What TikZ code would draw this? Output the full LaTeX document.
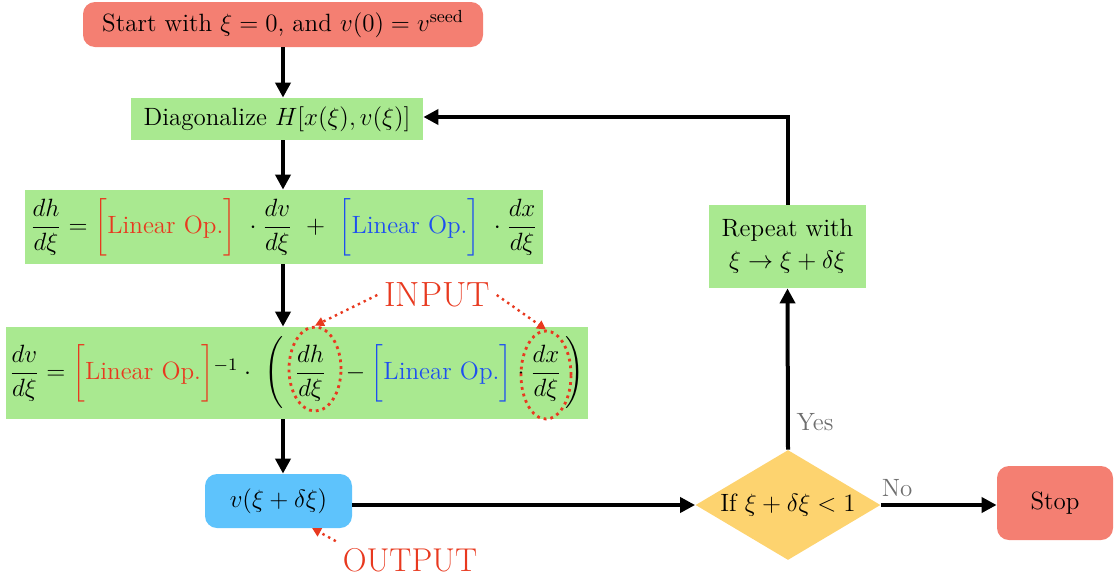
\documentclass[tikz,border=0pt]{standalone}
\usepackage{fix-cm}
\usepackage{amsmath}
\usetikzlibrary{arrows.meta,shapes.geometric}
\definecolor{boxRed}{HTML}{F47F72}
\definecolor{boxGreen}{HTML}{A9E990}
\definecolor{boxBlue}{HTML}{5EC3FC}
\definecolor{boxYellow}{HTML}{FDD36F}
\definecolor{opRed}{HTML}{E8391F}
\definecolor{opBlue}{HTML}{1E4FF0}
\definecolor{noteGrey}{HTML}{6E6E6E}
\newcommand{\redop}{\textcolor{opRed}{\biggl[\text{Linear Op.}\biggr]}}
\newcommand{\blueop}{\textcolor{opBlue}{\biggl[\text{Linear Op.}\biggr]}}

\begin{document}
\begin{tikzpicture}[x=0.5pt,y=-0.5pt,
  >={Triangle[width=7.5pt,length=7.5pt]},
  every node/.style={font=\fontsize{12.5}{15}\selectfont},
  flow/.style={->,line width=2pt},
  note/.style={->,opRed,dotted,line width=1.2pt,>={Triangle[width=4.5pt,length=4.5pt]}},
  greenbox/.style={fill=boxGreen,inner sep=0pt},
  roundbox/.style={rounded corners=6pt,inner sep=0pt},
  ring/.style={ellipse,draw=opRed,dotted,line width=1.4pt,inner sep=0pt}]
\useasboundingbox (0,0) rectangle (1114,579);
% boxes of the loop
\node[roundbox,fill=boxRed,minimum width=200pt,minimum height=22.5pt] (start) at (283,24.5) {Start with $\xi=0$, and $v(0)=v^{\text{seed}}$};
\node[greenbox,minimum width=146pt,minimum height=21pt] (diag) at (277,119) {Diagonalize $H[x(\xi),v(\xi)]$};
\node[greenbox,minimum width=259pt,minimum height=37pt] (eqh) at (284,227)
  {$\dfrac{dh}{d\xi}=\redop\ \cdot\dfrac{dv}{d\xi}\ +\ \blueop\ \cdot\dfrac{dx}{d\xi}$};
\node[greenbox,minimum width=291pt,minimum height=46pt] (eqv) at (297,373)
  {$\dfrac{dv}{d\xi}=\redop^{-1}\cdot\ \Biggl(\;\,\dfrac{dh}{d\xi}\;\;-\blueop\cdot\dfrac{dx}{d\xi}\,\Biggr)$};
\node[roundbox,fill=boxBlue,minimum width=73.5pt,minimum height=27pt] (vnew) at (278.5,501) {$v(\xi+\delta\xi)$};
\node[diamond,fill=boxYellow,inner sep=0pt,minimum width=92.5pt,minimum height=55pt] (cond) at (788,505) {\makebox[0pt]{If $\xi+\delta\xi<1$}};
\node[roundbox,fill=boxRed,minimum width=58pt,minimum height=37pt] (stop) at (1055,503) {Stop};
\node[greenbox,minimum width=78.5pt,minimum height=41.5pt,align=center] (again) at (787.5,246.5) {Repeat with\\[1pt]$\xi\to\xi+\delta\xi$};
% arrows
\draw[flow] (start.south) -- (start.south |- diag.north);
\draw[flow] (start.south |- diag.south) -- (start.south |- eqh.north);
\draw[flow] (start.south |- eqh.south) -- (start.south |- eqv.north);
\draw[flow] (start.south |- eqv.south) -- (start.south |- vnew.north);
\draw[flow] (vnew.east |- cond.west) -- (cond.west);
\draw[flow] (cond.north) -- (again.south) node[pos=0.17,right,noteGrey]{Yes};
\draw[flow] (cond.east) -- (cond.east -| stop.west) node[pos=0.14,above,noteGrey]{No};
\draw[flow] (again.north) |- ([yshift=1pt]diag.east);
% input and output marks
\node[ring,minimum width=26pt,minimum height=42pt] (dhring) at (315,369) {};
\node[ring,minimum width=25pt,minimum height=44pt] (dxring) at (546,375) {};
\node[opRed,font=\fontsize{17.5}{20}\selectfont] (input) at (437,295) {INPUT};
\node[opRed,font=\fontsize{16.5}{19}\selectfont] (output) at (410,560) {OUTPUT};
\coordinate (vout) at (312,528);
\draw[note] (input.west) -- (dhring.north);
\draw[note] (input.east) -- (dxring.north);
\draw[note] (output.north west) -- (vout);
\end{tikzpicture}
\end{document}
